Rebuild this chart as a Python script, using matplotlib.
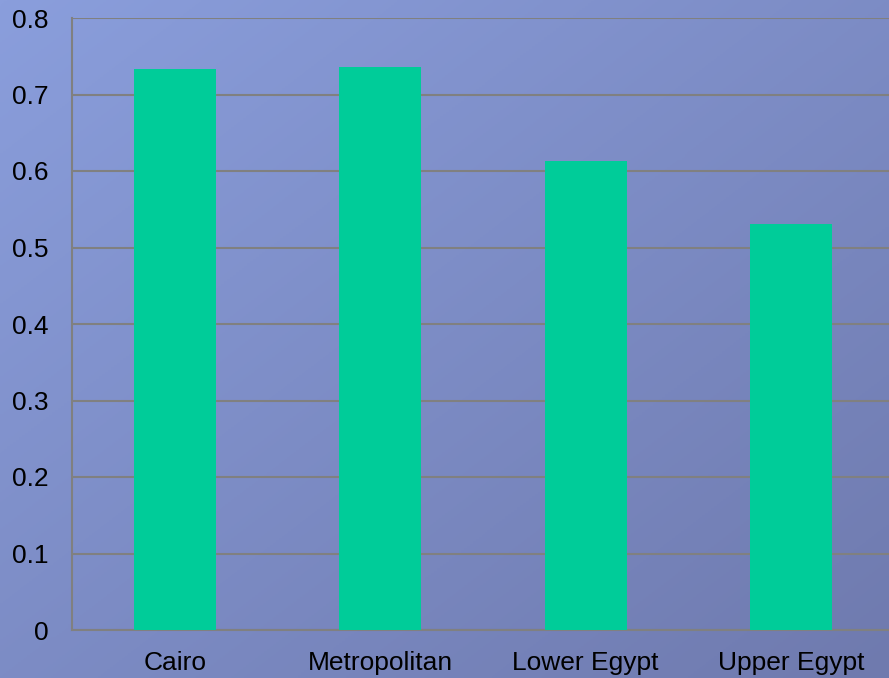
import numpy as np
import matplotlib.pyplot as plt
from matplotlib.colors import LinearSegmentedColormap

# datos
categories = ['Cairo', 'Metropolitan', 'Lower Egypt', 'Upper Egypt']
values = [0.733, 0.736, 0.613, 0.531]
yticks = [0, 0.1, 0.2, 0.3, 0.4, 0.5, 0.6, 0.7, 0.8]
ytick_labels = ['0', '0.1', '0.2', '0.3', '0.4', '0.5', '0.6', '0.7', '0.8']

plt.rcParams['font.family'] = ['Liberation Sans', 'DejaVu Sans']

fig = plt.figure(figsize=(8.89, 6.78), dpi=100)

# fondo con degradado diagonal
bg = fig.add_axes([0, 0, 1, 1], zorder=-10)
gx, gy = np.meshgrid(np.linspace(0, 1, 300), np.linspace(0, 1, 300))
grad = (gx + gy) / 2
cmap = LinearSegmentedColormap.from_list('bg', ['#8A9EDC', '#6F7AAE'])
bg.imshow(grad, cmap=cmap, aspect='auto', extent=[0, 1, 0, 1], origin='upper')
bg.axis('off')

ax = fig.add_axes([72 / 889, 48 / 678, 822 / 889, 612 / 678])
ax.patch.set_alpha(0)
x = np.arange(len(categories))
ax.bar(x, values, width=0.4, color='#00CC99', zorder=3)

ax.set_xlim(-0.5, len(categories) - 0.5)
ax.set_ylim(0, 0.8)
ax.set_yticks(yticks)
ax.set_yticklabels(ytick_labels)
ax.set_xticks(x)
ax.set_xticklabels(categories)
ax.tick_params(axis='both', length=0, labelsize=19, colors='black')
ax.tick_params(axis='y', pad=17)
ax.tick_params(axis='x', pad=15)
ax.yaxis.grid(True, color='#808080', linewidth=1.5, zorder=0)
for s in ['top', 'right']:
    ax.spines[s].set_visible(False)
for s in ['left', 'bottom']:
    ax.spines[s].set_color('#808080')
    ax.spines[s].set_linewidth(1.5)

fig.savefig('out.png', dpi=100)
